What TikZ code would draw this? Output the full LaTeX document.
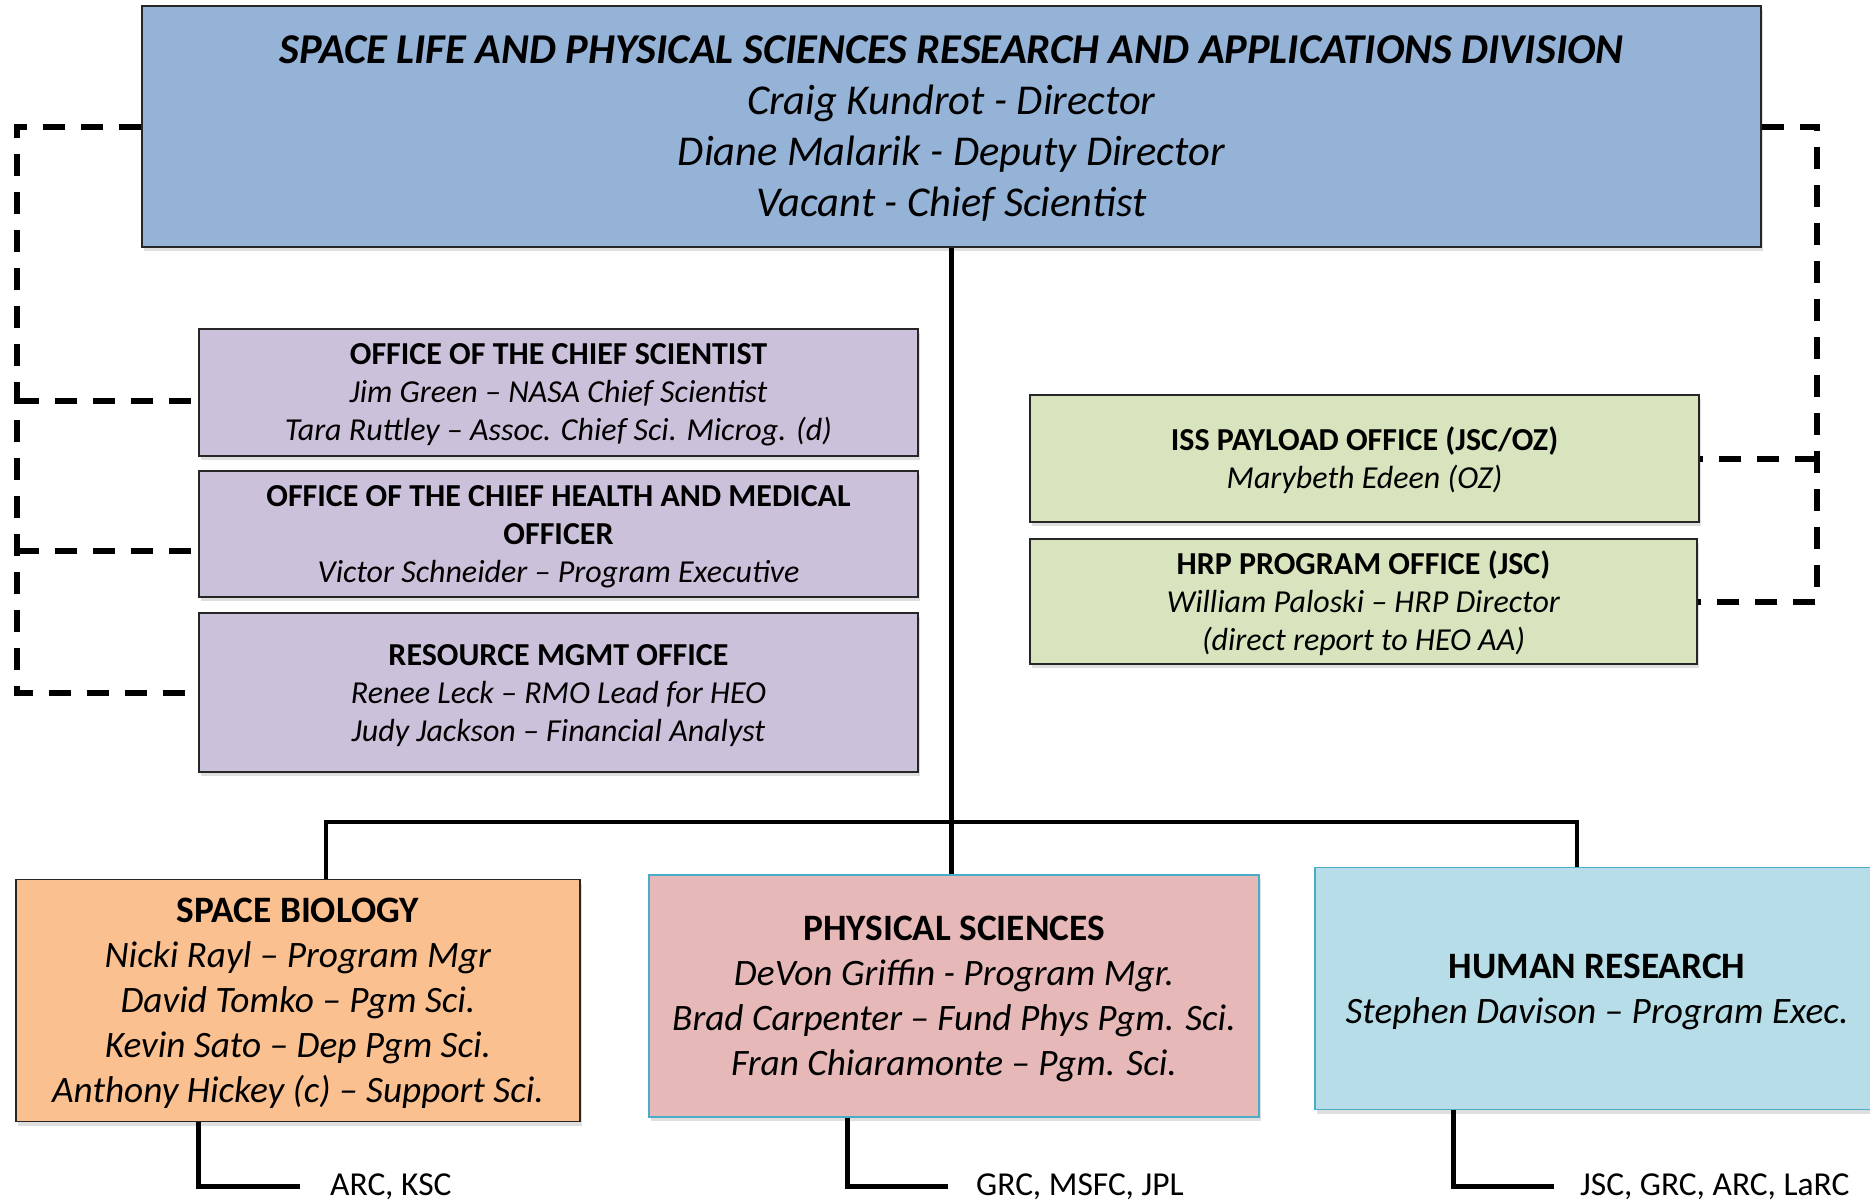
\documentclass[tikz,border=0pt]{standalone}
\usepackage{fontspec}
\setmainfont{Carlito}
\usepackage{tikz}
\usetikzlibrary{shadows}
\definecolor{divblue}{HTML}{95B3D7}
\definecolor{offpurple}{HTML}{CCC1DA}
\definecolor{offgreen}{HTML}{D7E4BD}
\definecolor{bioorange}{HTML}{FAC090}
\definecolor{physpink}{HTML}{E6B9B8}
\definecolor{humblue}{HTML}{B7DEE8}
\definecolor{edgeblue}{HTML}{4BACC6}

\begin{document}
\begin{tikzpicture}[x=1pt, y=-1pt,
    box/.style={draw=black!85, line width=1.5pt, align=center, inner sep=0pt, text depth=-3pt,
        drop shadow={opacity=0.25, shadow xshift=2pt, shadow yshift=-4pt}},
    office/.style={box, fill=offpurple, minimum width=719pt, font=\fontsize{32}{38}\selectfont},
    payload/.style={box, fill=offgreen, text depth=2pt, font=\fontsize{32}{38}\selectfont},
    element/.style={box, minimum height=242pt, font=\fontsize{37.3}{45}\selectfont},
    orgline/.style={line width=4.5pt},
    dashline/.style={line width=6pt, dash pattern=on 22pt off 16pt},
    site/.style={anchor=base west, inner sep=0pt, font=\fontsize{33.5}{38}\selectfont}]
    \useasboundingbox (0,0) rectangle (1870,1199);
    \fill[white] (0,0) rectangle (1870,1199);

    \node[box, fill=divblue, minimum width=1619pt, minimum height=241pt, font=\fontsize{42.5}{51}\selectfont] (div) at (951.5,126.5)
        {\textbf{\textit{SPACE LIFE AND PHYSICAL SCIENCES RESEARCH AND APPLICATIONS DIVISION}}\\
         \textit{Craig Kundrot - Director}\\ \textit{Diane Malarik - Deputy Director}\\ \textit{Vacant - Chief Scientist}};

    \node[office, minimum height=127pt] (ocs) at (558.5,392.5)
        {\textbf{OFFICE OF THE CHIEF SCIENTIST}\\ \textit{Jim Green -- NASA Chief Scientist}\\
         \textit{Tara Ruttley -- Assoc. Chief Sci. Microg. (d)}};
    \node[office, minimum height=126pt] (ochmo) at (558.5,534)
        {\textbf{OFFICE OF THE CHIEF HEALTH AND MEDICAL}\\ \textbf{OFFICER}\\ \textit{Victor Schneider -- Program Executive}};
    \node[office, minimum height=159pt] (rmo) at (558.5,692.5)
        {\textbf{RESOURCE MGMT OFFICE}\\ \textit{Renee Leck -- RMO Lead for HEO}\\ \textit{Judy Jackson -- Financial Analyst}};

    \node[payload, minimum width=669pt, minimum height=127pt] (iss) at (1364.5,458.5)
        {\textbf{ISS PAYLOAD OFFICE (JSC/OZ)}\\ \textit{Marybeth Edeen (OZ)}};
    \node[payload, minimum width=667pt, minimum height=125pt] (hrp) at (1363.5,601.5)
        {\textbf{HRP PROGRAM OFFICE (JSC)}\\ \textit{William Paloski -- HRP Director}\\ \textit{(direct report to HEO AA)}};

    \node[element, fill=bioorange, minimum width=564pt] (sbio) at (298,1000.5)
        {\textbf{SPACE BIOLOGY}\\ \textit{Nicki Rayl -- Program Mgr}\\ \textit{David Tomko -- Pgm Sci.}\\
         \textit{Kevin Sato -- Dep Pgm Sci.}\\ \textit{Anthony Hickey (c) -- Support Sci.}};
    \node[element, fill=physpink, draw=edgeblue, minimum width=610pt] (phys) at (954,996)
        {\textbf{PHYSICAL SCIENCES}\\ \textit{DeVon Griffin - Program Mgr.}\\
         \textit{Brad Carpenter -- Fund Phys Pgm. Sci.}\\ \textit{Fran Chiaramonte -- Pgm. Sci.}};
    \node[element, fill=humblue, draw=edgeblue, minimum width=564pt] (hum) at (1597,988.5)
        {\textbf{HUMAN RESEARCH}\\ \textit{Stephen Davison -- Program Exec.}};

    \node[site] (sbsite) at (330,1195) {ARC, KSC};
    \node[site] (pssite) at (976,1195) {GRC, MSFC, JPL};
    \node[site] (hrsite) at (1580,1195) {JSC, GRC, ARC, LaRC};

    \coordinate (barL) at (326,822);
    \coordinate (barR) at (1577,822);
    \coordinate (lrail) at (17,0);
    \coordinate (rrail) at (1817,0);

    \draw[orgline] (div.south) -- (div.south |- phys.north);
    \draw[orgline] (sbio.north -| barL) |- (barR) -- (barR |- hum.north);
    \draw[orgline] ([xshift=183pt]sbio.south west) |- ([xshift=-30pt]sbsite.west);
    \draw[orgline] ([xshift=199pt]phys.south west) |- ([xshift=-28pt]pssite.west);
    \draw[orgline] ([xshift=139pt]hum.south west) |- ([xshift=-26pt]hrsite.west);

    \draw[dashline] (div.west) -| (lrail |- rmo.west) -- (rmo.west);
    \draw[dashline] (lrail |- ocs.west) ++(0,8) -- ([yshift=-8pt]ocs.west);
    \draw[dashline] (lrail |- ochmo.west) ++(0,17) -- ([yshift=-17pt]ochmo.west);
    \draw[dashline] (div.east) -| (rrail |- hrp.east) -- (hrp.east);
    \draw[dashline] (rrail |- iss.east) -- (iss.east);
\end{tikzpicture}
\end{document}
